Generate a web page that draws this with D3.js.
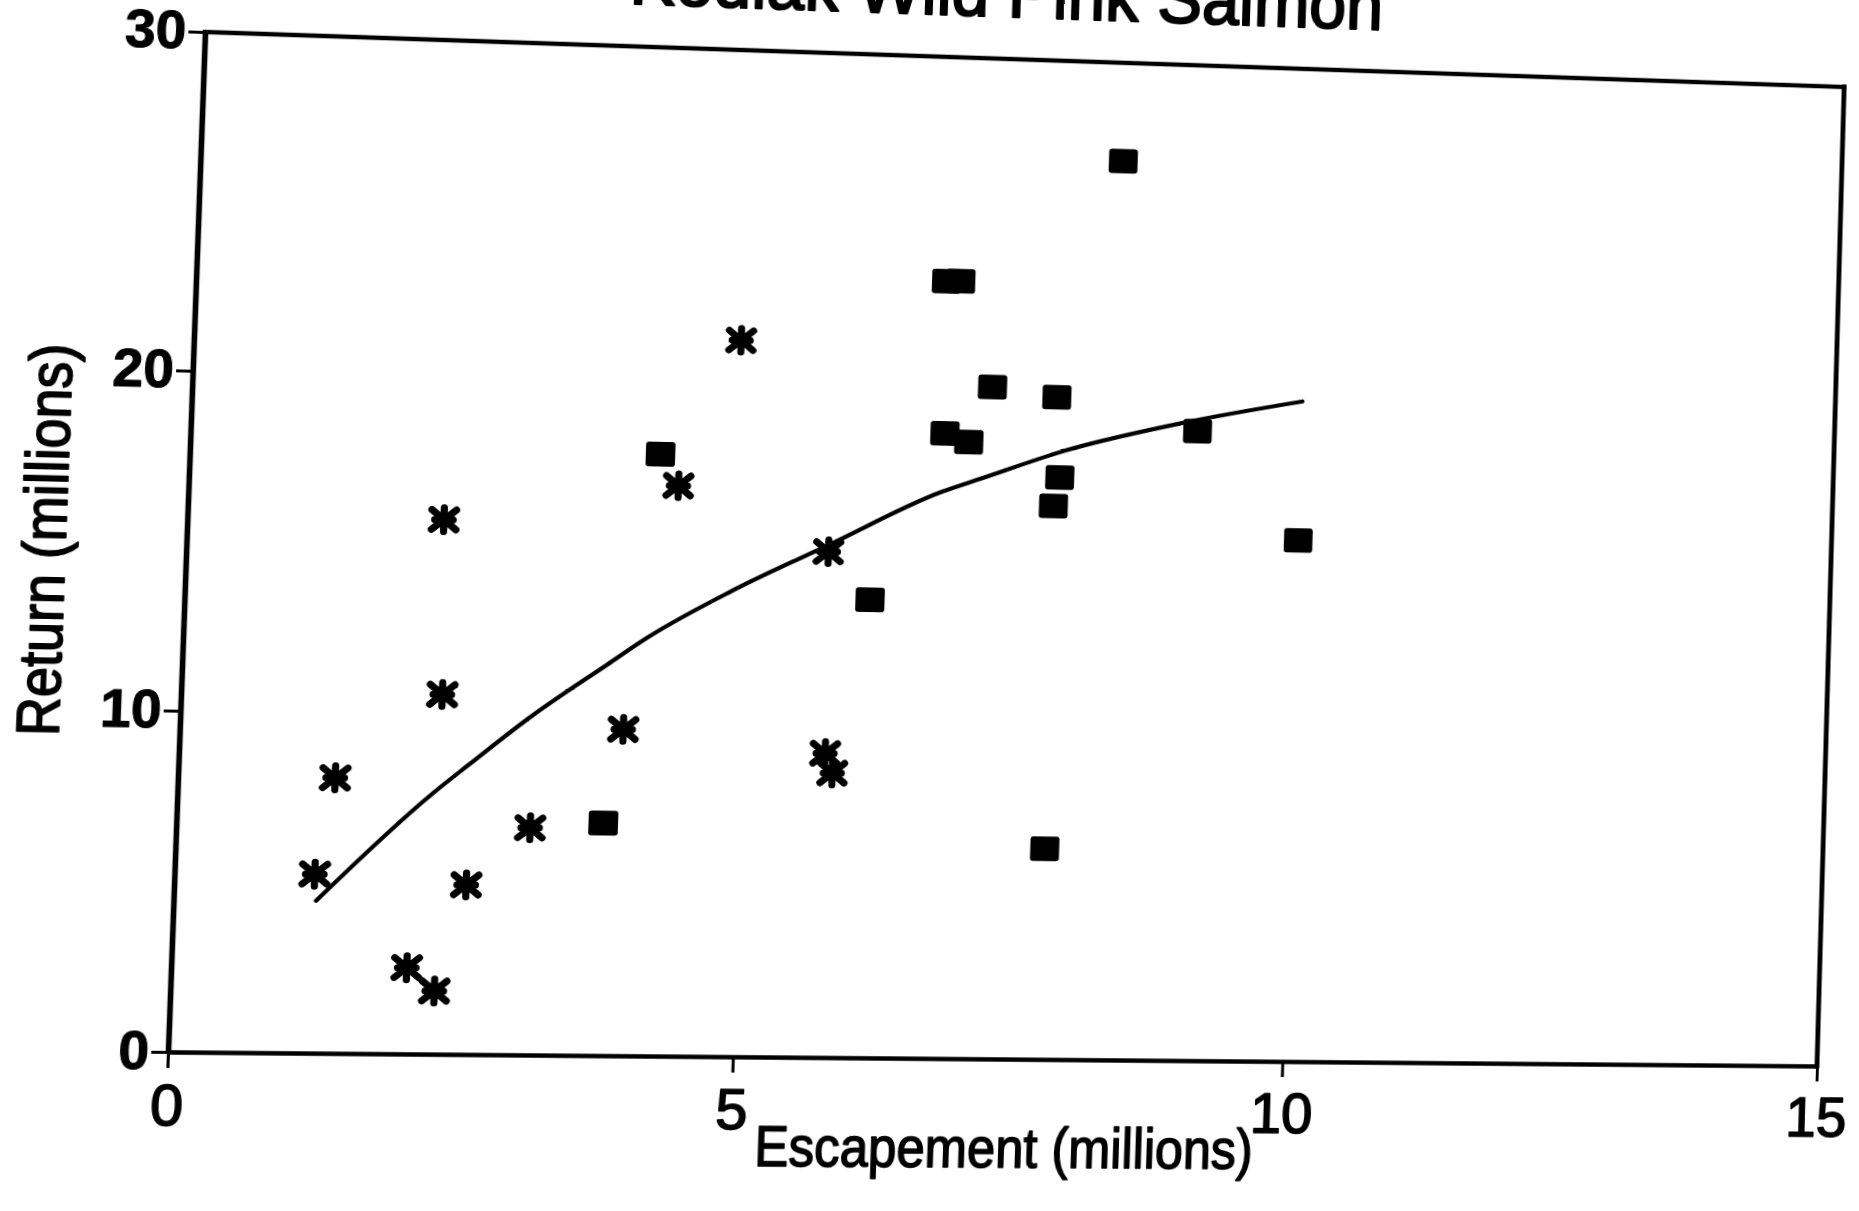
<!DOCTYPE html>
<html>
<head>
<meta charset="utf-8">
<script src="https://cdn.jsdelivr.net/npm/d3@7"></script>
<style>
  html, body { margin: 0; padding: 0; background: #fff; overflow: hidden; }
  #sheet { position: absolute; left: 0; top: 0; width: 1859px; height: 1211px; transform-origin: 0 0; }
  #sheet svg { overflow: visible; display: block; }
</style>
</head>
<body>
<div id="sheet"></div>
<script>
// ---- chart text ----
const titleText = "Kodiak Wild Pink Salmon";
const xLabel = "Escapement (millions)";
const yLabel = "Return (millions)";
const xTicks = [0, 5, 10, 15];
const yTicks = [0, 10, 20, 30];

// ---- brood years plotted with asterisks (millions of fish) ----
const asteriskEsc = [1.23, 1.38, 2.07, 2.32, 2.26, 2.30, 2.57, 3.12, 3.92, 4.34, 4.86, 5.71, 5.74, 5.81];
const asteriskRet = [5.26, 8.10, 2.54, 1.86, 15.78, 10.61, 5.00, 6.71, 9.67, 16.94, 21.32, 15.07, 9.05, 8.47];

// ---- brood years plotted with filled squares ----
const squareEsc = [3.77, 4.17, 6.10, 6.70, 6.83, 6.73, 6.95, 7.15, 7.76, 7.74, 7.74, 7.79, 8.28, 9.04, 10.00];
const squareRet = [6.88, 17.87, 13.66, 23.26, 23.27, 18.69, 18.45, 20.12, 6.30, 16.59, 19.86, 17.45, 27.03, 18.94, 15.71];

// ---- fitted stock-recruit curve ----
const fitEsc = [1.25, 2.25, 2.56, 3.10, 3.76, 4.11, 4.85, 5.72, 6.72, 7.07, 7.84, 8.90, 10.00];
const fitRet = [4.48, 7.70, 8.56, 10.02, 11.59, 12.41, 13.84, 15.29, 16.94, 17.36, 18.27, 19.18, 19.92];

// two asterisks joined by a short stroke on the sheet
const joinedPair = [2, 3];

const W = 1859, H = 1211;
const FONT = '"Liberation Sans", Arial, Helvetica, sans-serif';
const plot = { left: 168, right: 1817, top: 32, bottom: 1052 };

const x = d3.scaleLinear().domain([0, 15]).range([plot.left, plot.right]);
const y = d3.scaleLinear().domain([0, 30]).range([plot.bottom, plot.top]);

const svg = d3.select("#sheet").append("svg")
  .attr("width", W).attr("height", H);

// heavier, ink-spread lettering
function inked(sel, w) {
  return sel.attr("fill", "#000").attr("stroke", "#000")
    .attr("stroke-width", w).attr("stroke-linejoin", "round");
}

// ---- title (top of the lettering runs off the sheet) ----
inked(svg.append("text")
  .attr("x", 959).attr("y", -11)
  .attr("text-anchor", "middle")
  .attr("font-family", FONT).attr("font-size", 72)
  .attr("textLength", 757).attr("lengthAdjust", "spacingAndGlyphs")
  .text(titleText), 2.2);

// ---- frame: top and right edges ----
svg.append("line")
  .attr("x1", x(0)).attr("x2", x(15)).attr("y1", y(30)).attr("y2", y(30))
  .attr("stroke", "#000").attr("stroke-width", 4.5).attr("stroke-linecap", "square");
svg.append("line")
  .attr("x1", x(15)).attr("x2", x(15)).attr("y1", y(0)).attr("y2", y(30))
  .attr("stroke", "#000").attr("stroke-width", 5).attr("stroke-linecap", "square");

// ---- axes ----
const gx = svg.append("g")
  .attr("transform", `translate(0,${plot.bottom})`)
  .call(d3.axisBottom(x).tickValues(xTicks).tickFormat(d3.format("d"))
    .tickSize(16).tickSizeOuter(0).tickPadding(17));
gx.select(".domain").attr("stroke-width", 4.5);
gx.selectAll(".tick line").attr("stroke-width", 3);
inked(gx.selectAll(".tick text")
  .attr("font-family", FONT).attr("font-size", 57), 1.6);

const gy = svg.append("g")
  .attr("transform", `translate(${plot.left},0)`)
  .call(d3.axisLeft(y).tickValues(yTicks).tickFormat(d3.format("d"))
    .tickSize(16).tickSizeOuter(0).tickPadding(2));
gy.select(".domain").attr("stroke-width", 5.5);
gy.selectAll(".tick line").attr("stroke-width", 3);
inked(gy.selectAll(".tick text")
  .attr("font-family", FONT).attr("font-size", 53).attr("font-weight", "bold"), 1);

// ---- axis titles ----
inked(svg.append("text")
  .attr("x", 991).attr("y", 1162)
  .attr("text-anchor", "middle")
  .attr("font-family", FONT).attr("font-size", 58)
  .attr("textLength", 498).attr("lengthAdjust", "spacingAndGlyphs")
  .text(xLabel), 1.6);

inked(svg.append("text")
  .attr("transform", "translate(52,544) rotate(-90)")
  .attr("text-anchor", "middle")
  .attr("font-family", FONT).attr("font-size", 58)
  .attr("textLength", 391).attr("lengthAdjust", "spacingAndGlyphs")
  .text(yLabel), 1.6);

// ---- fitted curve ----
const fit = fitEsc.map((e, i) => [e, fitRet[i]]);
svg.append("path")
  .datum(fit)
  .attr("fill", "none").attr("stroke", "#000").attr("stroke-width", 4.2)
  .attr("stroke-linecap", "round").attr("stroke-linejoin", "round")
  .attr("d", d3.line().x(d => x(d[0])).y(d => y(d[1])).curve(d3.curveMonotoneX));

// ---- asterisk points ----
const stars = asteriskEsc.map((e, i) => ({ e, r: asteriskRet[i] }));
svg.append("line")
  .attr("x1", x(stars[joinedPair[0]].e)).attr("y1", y(stars[joinedPair[0]].r))
  .attr("x2", x(stars[joinedPair[1]].e)).attr("y2", y(stars[joinedPair[1]].r))
  .attr("stroke", "#000").attr("stroke-width", 4.5);

const starG = svg.append("g").selectAll("g")
  .data(stars).join("g")
  .attr("transform", d => `translate(${x(d.e)},${y(d.r)})`);
starG.append("path")
  .attr("d", "M0,-12V12M-12,-10L12,10M-12,10L12,-10M-9,0H9")
  .attr("fill", "none").attr("stroke", "#000")
  .attr("stroke-width", 7).attr("stroke-linecap", "round");
starG.append("circle").attr("r", 8).attr("fill", "#000");

// ---- square points ----
const squares = squareEsc.map((e, i) => ({ e, r: squareRet[i] }));
svg.append("g").selectAll("rect")
  .data(squares).join("rect")
  .attr("x", d => x(d.e) - 14.5).attr("y", d => y(d.r) - 12.5)
  .attr("width", 29).attr("height", 25).attr("rx", 3)
  .attr("fill", "#000");

// ---- sheet warp: the printed page sits slightly skewed ----
function solveHomography(src, dst) {
  const A = [], b = [];
  for (let i = 0; i < 4; i++) {
    const [sx, sy] = src[i], [dx, dy] = dst[i];
    A.push([sx, sy, 1, 0, 0, 0, -dx * sx, -dx * sy]); b.push(dx);
    A.push([0, 0, 0, sx, sy, 1, -dy * sx, -dy * sy]); b.push(dy);
  }
  const n = 8;
  for (let c = 0; c < n; c++) {
    let p = c;
    for (let r = c + 1; r < n; r++) if (Math.abs(A[r][c]) > Math.abs(A[p][c])) p = r;
    [A[c], A[p]] = [A[p], A[c]]; [b[c], b[p]] = [b[p], b[c]];
    for (let r = 0; r < n; r++) {
      if (r === c) continue;
      const f = A[r][c] / A[c][c];
      for (let k = c; k < n; k++) A[r][k] -= f * A[c][k];
      b[r] -= f * b[c];
    }
  }
  const h = b.map((v, i) => v / A[i][i]);
  h.push(1);
  return h;
}

const flat = [[x(0), y(30)], [x(15), y(30)], [x(15), y(0)], [x(0), y(0)]];
const sheetCorners = [[205, 32], [1844, 87], [1817, 1066], [168, 1052]];
const h = solveHomography(flat, sheetCorners);
d3.select("#sheet").style("transform",
  `matrix3d(${h[0]},${h[3]},0,${h[6]},${h[1]},${h[4]},0,${h[7]},0,0,1,0,${h[2]},${h[5]},0,${h[8]})`);
</script>
</body>
</html>
